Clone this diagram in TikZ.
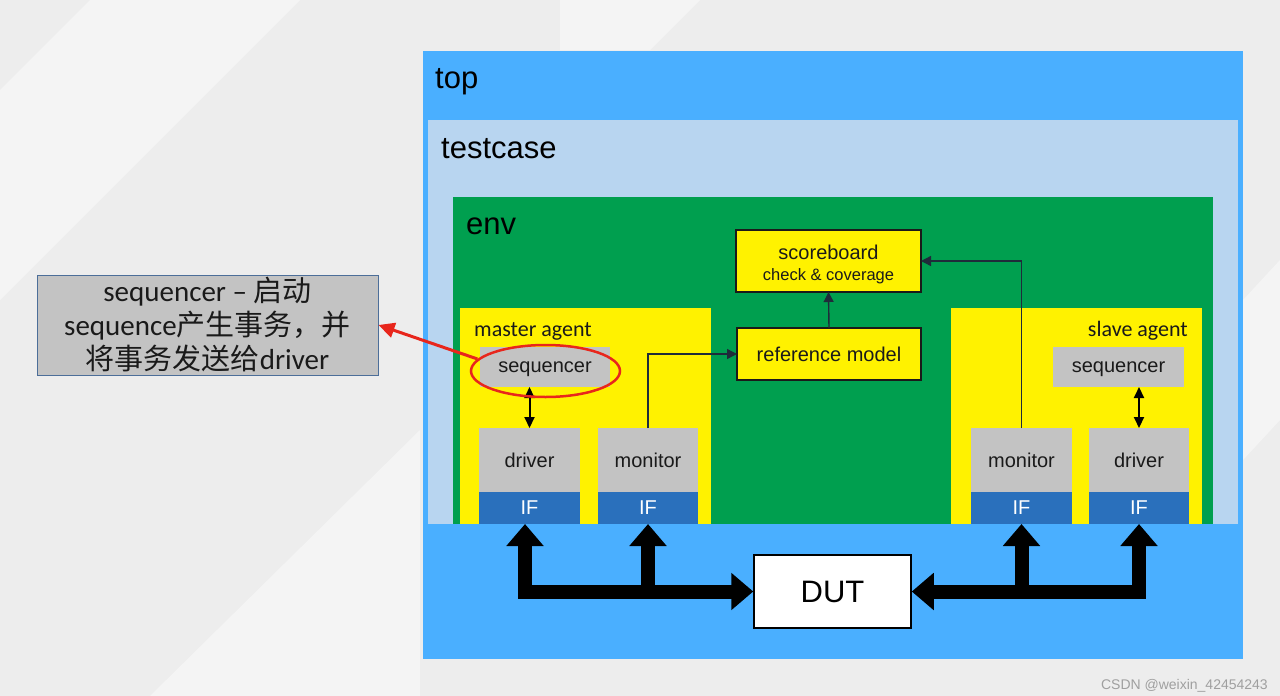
\documentclass[tikz,border=0pt]{standalone}
\usepackage{fontspec}
\setmainfont{Liberation Sans}
\newfontfamily\calib{Carlito}
\newfontfamily\cjk{Noto Sans CJK SC}
\usetikzlibrary{arrows.meta,shapes.geometric}
\definecolor{topblue}{HTML}{4AAFFF}
\definecolor{tcblue}{HTML}{B8D5F0}
\definecolor{envgreen}{HTML}{009F4F}
\definecolor{agyellow}{HTML}{FFF200}
\definecolor{boxgray}{HTML}{C3C3C3}
\definecolor{ifblue}{HTML}{2A70BC}
\definecolor{sigdark}{HTML}{1F2B3A}
\definecolor{hlred}{HTML}{E8261C}
\definecolor{bggray}{HTML}{EDEDED}
\definecolor{bglight}{HTML}{F4F4F4}
\definecolor{calloutedge}{HTML}{4C6E99}
\definecolor{txt}{HTML}{1A1A1A}
\begin{document}
\begin{tikzpicture}[x=1pt,y=-1pt,
 region/.style={rectangle, inner sep=0pt, outer sep=0pt, draw=none},
 comp/.style={region, fill=boxgray, text=txt, text depth=0pt, font=\fontsize{20}{24}\selectfont},
 iface/.style={region, fill=ifblue, text=white, font=\fontsize{20}{24}\selectfont},
 ybox/.style={rectangle, inner sep=0pt, outer sep=0pt, fill=agyellow, draw=txt, line width=2pt, text=txt, font=\fontsize{20}{24}\selectfont, align=center},
 title/.style={anchor=base west, inner sep=0pt, text=black, font=\fontsize{31}{36}\selectfont},
 agtitle/.style={inner sep=0pt, text=txt, font=\calib\fontsize{22}{26}\selectfont},
 sig/.style={draw=sigdark, line width=1.4pt, -{Triangle[width=10pt,length=10pt]}},
 dbl/.style={draw=black, line width=2pt, {Triangle[width=10pt,length=11pt]}-{Triangle[width=10pt,length=11pt]}},
 bus/.style={draw=black, line width=14pt, line join=miter},
 bus1/.style={bus, -{Triangle[width=36pt,length=22pt]}},
 bus2/.style={bus, {Triangle[width=36pt,length=22pt]}-{Triangle[width=36pt,length=22pt]}},
]
\useasboundingbox (0,0) rectangle (1280,696);
% background
\fill[bggray] (0,0) rectangle (1280,696);
\fill[bglight] (0,90) -- (90,0) -- (300,0) -- (0,300) -- cycle;
\fill[bglight] (150,696) -- (420,430) -- (420,696) -- cycle;
\fill[bglight] (560,0) -- (700,0) -- (650,50) -- (560,50) -- cycle;
\fill[bglight] (1243,300) -- (1280,260) -- (1280,420) -- (1243,460) -- cycle;

% containers
\node[region, fill=topblue, minimum width=820pt, minimum height=608pt] (top) at (833,355) {};
\node[title] (toplbl) at (435,88) {top};
\node[region, fill=tcblue, minimum width=810pt, minimum height=404pt] (tc) at (833,322) {};
\node[title] (tclbl) at (441,158) {testcase};
\node[region, fill=envgreen, minimum width=760pt, minimum height=327pt] (env) at (833,360.5) {};
\node[title] (envlbl) at (466,234) {env};

% agents
\node[region, fill=agyellow, minimum width=251pt, minimum height=216pt] (magent) at (585.5,416) {};
\node[agtitle, anchor=base west] (maglbl) at (474,336) {master agent};
\node[region, fill=agyellow, minimum width=251pt, minimum height=216pt] (sagent) at (1076.5,416) {};
\node[agtitle, anchor=base east] (saglbl) at (1188,336) {slave agent};

% master components
\node[comp, minimum width=130pt, minimum height=40pt] (mseq) at (545,367) {sequencer};
\node[comp, minimum width=101pt, minimum height=64pt] (mdrv) at (529.5,460) {driver};
\node[iface, minimum width=101pt, minimum height=32pt] (mdrvif) at (529.5,508) {IF};
\node[comp, minimum width=100pt, minimum height=64pt] (mmon) at (648,460) {monitor};
\node[iface, minimum width=100pt, minimum height=32pt] (mmonif) at (648,508) {IF};

% slave components
\node[comp, minimum width=131pt, minimum height=40pt] (sseq) at (1118.5,367) {sequencer};
\node[comp, minimum width=101pt, minimum height=64pt] (smon) at (1021.5,460) {monitor};
\node[iface, minimum width=101pt, minimum height=32pt] (smonif) at (1021.5,508) {IF};
\node[comp, minimum width=100pt, minimum height=64pt] (sdrv) at (1139,460) {driver};
\node[iface, minimum width=100pt, minimum height=32pt] (sdrvif) at (1139,508) {IF};

% scoreboard and reference model
\node[ybox, minimum width=185pt, minimum height=62pt] (sb) at (828.5,261) {\rule{0pt}{22pt}scoreboard\\[-3pt]\fontsize{16.5}{20}\selectfont check \& coverage};
\node[ybox, minimum width=184pt, minimum height=52pt] (ref) at (829,354) {reference model};

% DUT
\node[rectangle, fill=white, draw=black, line width=1.5pt, minimum width=157pt, minimum height=73pt, inner sep=0pt, font=\fontsize{31}{36}\selectfont] (dut) at (832.5,591.5) {DUT};

% signal connectors
\draw[sig] (ref.north) -- (sb.south);
\draw[sig] (mmon.north) |- (ref.west);
\draw[sig] (smon.north) |- (sb.east);
\draw[dbl] (mseq.south -| mdrv.north) -- (mdrv.north);
\draw[dbl] (sseq.south -| sdrv.north) -- (sdrv.north);

% buses
\coordinate (mmj) at (mmonif.south |- dut.west);
\coordinate (smj) at (smonif.south |- dut.west);
\draw[bus2] ([xshift=-4.5pt]mdrvif.south) |- (dut.west);
\draw[bus1] ([yshift=-7pt]mmj) -- (mmonif.south);
\draw[bus2] (sdrvif.south) |- (dut.east);
\draw[bus1] ([yshift=-7pt]smj) -- (smonif.south);

% callout
\node[rectangle, fill=boxgray, draw=calloutedge, line width=1pt, minimum width=341pt, minimum height=100pt, inner sep=0pt, align=center, text=txt, font=\calib\fontsize{29}{34}\selectfont] (callout) at (207.5,325) {sequencer – {\cjk 启动}\\sequence{\cjk 产生事务，并}\\{\cjk 将事务发送给}driver};

% highlight
\node[ellipse, draw=hlred, line width=2.5pt, minimum width=149pt, minimum height=52pt, inner sep=0pt] (hl) at (545.5,371) {};
\draw[draw=hlred, line width=3pt, -{Triangle[width=15pt,length=16pt]}] (hl.170) -- (callout.east);

% watermark
\node[anchor=base east, inner sep=0pt, text=gray!75, font=\fontsize{14}{16}\selectfont] (wm) at (1268,689) {CSDN @weixin\_42454243};
\end{tikzpicture}
\end{document}
